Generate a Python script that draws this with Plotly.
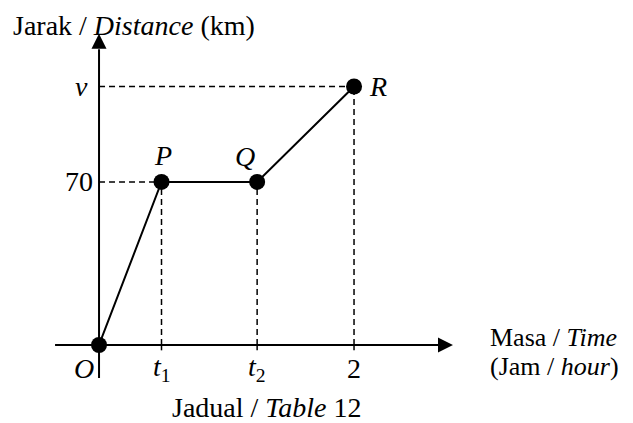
import plotly.graph_objects as go

# dados (tempo em horas, distancia em km)
nomes = ["O", "P", "Q", "R"]
tempo = [0, 0.49, 1.24, 2]
distancia = [0, 70, 70, 111]
rotulos_x = ["<i>O</i>", "<i>t</i><sub>1</sub>", "<i>t</i><sub>2</sub>", "2"]
rotulos_y = ["70", "<i>v</i>"]

FONTE = "Liberation Serif"
PRETO = "black"
W, H = 625, 415  # a pagina tem margem de 8px


def px(x):
    return (x - 8) / W


def py(y):
    return 1 - (y - 8) / H


fig = go.Figure()

# linhas tracejadas de referencia
tracejado = dict(color=PRETO, width=1.5, dash="6px,4px")
for i in [1, 2, 3]:
    fig.add_trace(go.Scatter(x=[tempo[i], tempo[i]], y=[0, distancia[i]], mode="lines",
                             line=tracejado, hoverinfo="skip"))
    # pequena marca abaixo do eixo
    fig.add_trace(go.Scatter(x=[tempo[i], tempo[i]], y=[0, -2.3], mode="lines",
                             line=dict(color=PRETO, width=1.5), hoverinfo="skip"))
for i in [1, 3]:
    fig.add_trace(go.Scatter(x=[0, tempo[i]], y=[distancia[i], distancia[i]], mode="lines",
                             line=tracejado, hoverinfo="skip"))

# eixos com setas
fig.add_trace(go.Scatter(x=[-0.345, 2.70], y=[0, 0], mode="lines",
                         line=dict(color=PRETO, width=2), hoverinfo="skip"))
fig.add_trace(go.Scatter(x=[2.776], y=[0], mode="markers", hoverinfo="skip",
                         marker=dict(symbol="arrow-right", size=15, color=PRETO, line=dict(width=0))))
fig.add_trace(go.Scatter(x=[0, 0], y=[-14.2, 127], mode="lines",
                         line=dict(color=PRETO, width=2), hoverinfo="skip"))
fig.add_trace(go.Scatter(x=[0], y=[133.6], mode="markers", hoverinfo="skip",
                         marker=dict(symbol="arrow-up", size=15, color=PRETO, line=dict(width=0))))

# grafico principal
fig.add_trace(go.Scatter(x=tempo, y=distancia, mode="lines+markers",
                         line=dict(color=PRETO, width=2),
                         marker=dict(color=PRETO, size=16), hoverinfo="skip"))

fonte = dict(family=FONTE, size=28, color=PRETO)

# rotulos do eixo x
for i in range(4):
    fig.add_annotation(x=tempo[i], y=0, text=rotulos_x[i], showarrow=False, font=fonte,
                       xanchor="center", yanchor="middle", yshift=-24,
                       xshift=-15 if i == 0 else 0)

# rotulos do eixo y
for val, txt, dx in zip([distancia[1], distancia[3]], rotulos_y, [-4, -9]):
    fig.add_annotation(x=0, y=val, text=txt, showarrow=False, font=fonte,
                       xanchor="right", yanchor="middle", xshift=dx)

# nomes dos pontos
fig.add_annotation(x=tempo[1], y=distancia[1], text="<i>P</i>", showarrow=False, font=fonte,
                   xanchor="center", yanchor="middle", yshift=26, xshift=1)
fig.add_annotation(x=tempo[2], y=distancia[2], text="<i>Q</i>", showarrow=False, font=fonte,
                   xanchor="center", yanchor="middle", yshift=25, xshift=-12)
fig.add_annotation(x=tempo[3], y=distancia[3], text="<i>R</i>", showarrow=False, font=fonte,
                   xanchor="left", yanchor="middle", xshift=13)

# titulos dos eixos e legenda
fig.add_annotation(x=px(11), y=1, xref="paper", yref="paper",
                   text="Jarak / <i>Distance</i> (km)", showarrow=False,
                   font=dict(family=FONTE, size=28, color=PRETO),
                   xanchor="left", yanchor="top")
fonte_masa = dict(family=FONTE, size=26, color=PRETO)
fig.add_annotation(x=px(488), y=py(337), xref="paper", yref="paper",
                   text="Masa / <i>Time</i>", showarrow=False, font=fonte_masa,
                   xanchor="left", yanchor="middle")
fig.add_annotation(x=px(488), y=py(366), xref="paper", yref="paper",
                   text="(Jam / <i>hour</i>)", showarrow=False, font=fonte_masa,
                   xanchor="left", yanchor="middle")
fig.add_annotation(x=px(267), y=py(407), xref="paper", yref="paper",
                   text="Jadual / <i>Table</i> 12", showarrow=False, font=fonte,
                   xanchor="center", yanchor="middle")

fig.update_layout(
    width=W, height=H, autosize=False,
    margin=dict(l=0, r=0, t=0, b=0),
    paper_bgcolor="white", plot_bgcolor="white",
    showlegend=False,
    xaxis=dict(range=[-0.714, 4.188], visible=False, fixedrange=True),
    yaxis=dict(range=[-33.5, 144.7], visible=False, fixedrange=True),
)

fig.write_html("out.html")
